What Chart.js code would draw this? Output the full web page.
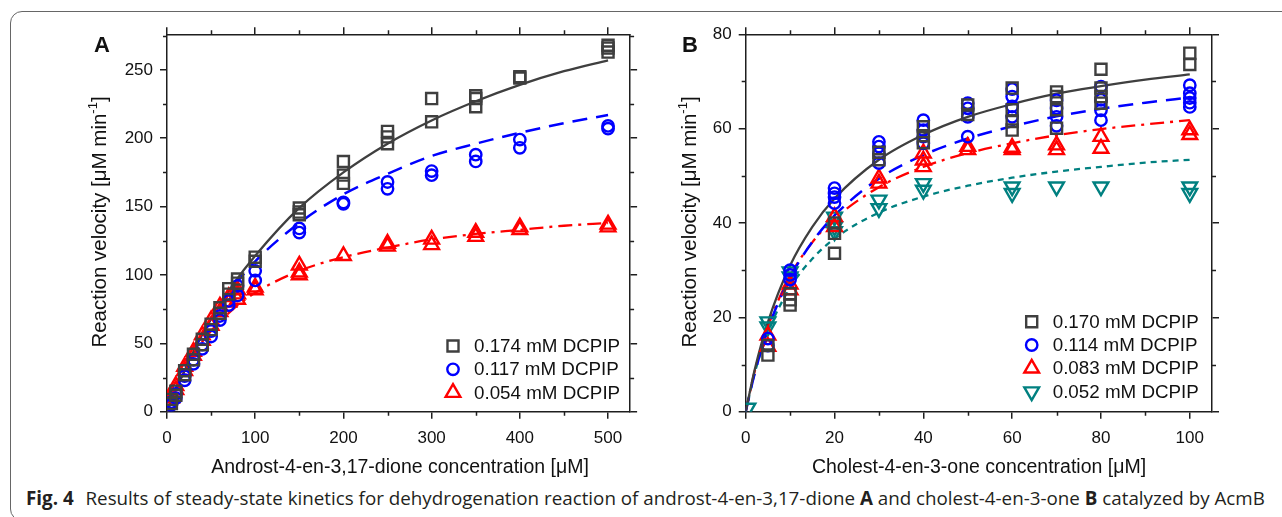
<!DOCTYPE html>
<html>
<head>
<meta charset="utf-8">
<script src="https://cdn.jsdelivr.net/npm/chart.js@4.4.1/dist/chart.umd.min.js"></script>
<style>
  body { margin: 0; background: #fff; width: 1282px; height: 517px; overflow: hidden; position: relative; }
  #frame { position: absolute; left: 10px; top: 11px; width: 1300px; height: 508px; border: 1px solid #666; border-radius: 12px; }
  canvas { position: absolute; top: 0; }
  #cA { left: 0; }
  #cB { left: 641px; }
  #caption { position: absolute; left: 26px; top: 487px; font-family: 'Open Sans', sans-serif; font-size: 18.8px; line-height: 22px; color: #231f20; white-space: nowrap; }
  #caption b { font-weight: 700; margin-right: 7px; }
</style>
</head>
<body>
<div id="frame"></div>
<canvas id="cA" width="641" height="480"></canvas>
<canvas id="cB" width="641" height="480"></canvas>
<div id="caption"><b>Fig. 4</b> Results of steady-state kinetics for dehydrogenation reaction of androst-4-en-3,17-dione <b style="margin:0">A</b> and cholest-4-en-3-one <b style="margin:0">B</b> catalyzed by AcmB</div>

<script>
// ---- panel A: androst-4-en-3,17-dione ----
const concA = [5, 10, 20, 30, 40, 50, 60, 70, 80, 100, 150, 200, 250, 300, 350, 400, 500];
const vA174 = [[6, 9], [12, 15], [27, 30], [38, 42], [49, 53], [60, 64], [72, 76], [86, 90], [94, 97], [110, 113],
  [144, 146, 149], [167, 173, 183], [196, 201, 205], [212, 229], [223, 229, 231], [244, 245], [263, 266, 268]];
const vA117 = [[5, 7], [10, 13], [23, 26], [35, 38], [46, 49], [55, 59], [67, 70], [78, 81], [85, 92], [96, 103],
  [131, 134], [152, 153], [163, 168], [173, 176], [183, 188], [193, 199], [207, 209]];
const vA054 = [[10, 13], [16, 19], [30, 33], [41, 44], [52, 56], [63, 67], [73, 77], [80, 84], [82, 86, 89], [89, 91],
  [100, 102, 107], [114], [121, 123], [122, 126], [128, 131], [133, 135], [135, 137]];
const fitXA = [0, 10, 20, 30, 50, 75, 100, 150, 200, 250, 300, 350, 400, 450, 500];
const fitA174 = [0, 16, 30, 44, 68, 93, 114, 149, 175, 196, 213, 227, 239, 249, 257];
const fitA117 = [0, 17, 31, 45, 68, 91, 110, 138, 159, 174, 187, 196, 204, 211, 217];
const fitA054 = [0, 17, 30, 42, 59, 75, 87, 103, 113, 120, 126, 130, 133, 136, 138];
const ticksXA = [0, 100, 200, 300, 400, 500];
const ticksYA = [0, 50, 100, 150, 200, 250];

// ---- panel B: cholest-4-en-3-one ----
const concB = [5, 10, 20, 30, 40, 50, 60, 70, 80, 100];
const vB170 = [[12, 14], [22.6, 23.7, 25], [33.6, 37.8, 40], [53.4, 55], [57, 58.5, 60.4], [63, 65],
  [59.7, 61.5, 64, 68.6], [60.1, 64, 66.8, 67.8], [65.4, 66.8, 68.6, 72.6], [73.6, 76]];
const vB114 = [[14, 15.5], [28, 29, 30], [44.2, 45.5, 46.3, 47.4], [52.7, 54.8, 56.2, 57.2], [56.9, 58.3, 59.7, 61.8],
  [58.3, 62.5, 64.3, 65.4], [62.5, 64.7, 66.8, 68.4], [60.6, 62.5, 64.3, 66], [61.8, 63.9, 66.1, 68.9], [64.6, 65.5, 66.5, 67.5, 69.2]];
const vB083 = [[13.8, 16.2], [25.8, 27], [39.2, 41.3], [48.4, 49.5], [51.9, 53.3, 54.8], [55.5, 56.2],
  [55.5, 56], [55.5, 56.5], [55.8, 58.3], [58.7, 59.7]];
const concB052 = [0.5, 5, 10, 20, 30, 40, 60, 70, 80, 100];
const vB052 = [[0.8], [18, 19.1], [28.6, 29.7], [38.2, 39.2, 41.3], [43.1, 44.9], [47, 48.4], [46.3, 47.7], [47.7], [47.7], [46.3, 47.7]];
const fitXB = [0, 2, 5, 10, 15, 20, 30, 40, 50, 60, 70, 80, 90, 100];
const fitB170 = [0, 8.8, 19, 31, 39.2, 45.2, 53.4, 58.7, 62.5, 65.2, 67.4, 69, 70.4, 71.5];
const fitB114 = [0, 8, 17.5, 28.4, 36, 41.6, 49.4, 54.4, 57.9, 60.5, 62.6, 64.2, 65.5, 66.6];
const fitB083 = [0, 8.5, 18, 28.8, 35.9, 40.9, 47.6, 51.9, 54.8, 56.9, 58.6, 59.9, 60.9, 61.8];
const fitB052 = [0, 8.1, 16.8, 26.3, 32.4, 36.7, 42.2, 45.6, 47.9, 49.6, 50.9, 51.9, 52.8, 53.4];
const ticksXB = [0, 20, 40, 60, 80, 100];
const ticksYB = [0, 20, 40, 60, 80];

const GREY = '#3f3f3f', BLUE = '#0000ff', RED = '#ff0000', TEAL = '#008080';
const AXIS = '#1e1e1e';
const FONT = "'Liberation Sans', Arial, sans-serif";

function points(xs, reps) {
  const out = [];
  xs.forEach((x, i) => reps[i].forEach(v => out.push({ x: x, y: v })));
  return out;
}
function curve(xs, ys) {
  return xs.map((x, i) => ({ x: x, y: ys[i] }));
}

// minor ticks, axis titles, panel letter and in-plot legend
const decor = {
  id: 'decor',
  afterDraw(chart) {
    const o = chart.options.plugins.decor;
    const ctx = chart.ctx;
    const a = chart.chartArea;
    const sx = chart.scales.x, sy = chart.scales.y;
    ctx.save();
    ctx.strokeStyle = AXIS;
    ctx.lineWidth = 1.5;
    ctx.beginPath();
    for (let v = sx.min; v <= sx.max; v += o.xMinor) {
      if (o.xTicks.includes(v)) continue;
      const p = Math.round(sx.getPixelForValue(v)) + 0.5;
      ctx.moveTo(p, a.bottom); ctx.lineTo(p, a.bottom + 4);
      ctx.moveTo(p, a.top); ctx.lineTo(p, a.top - 4);
    }
    for (let v = sy.min; v <= sy.max; v += o.yMinor) {
      if (o.yTicks.includes(v)) continue;
      const p = Math.round(sy.getPixelForValue(v)) + 0.5;
      ctx.moveTo(a.left, p); ctx.lineTo(a.left - 4, p);
      ctx.moveTo(a.right, p); ctx.lineTo(a.right + 4, p);
    }
    ctx.stroke();

    ctx.fillStyle = '#111';
    // x title
    ctx.font = '19.5px ' + FONT;
    ctx.textAlign = 'center';
    ctx.textBaseline = 'middle';
    ctx.fillText(o.xTitle, o.xTitleX, 468);

    // y title with superscript
    ctx.translate(o.yTitleX, 222);
    ctx.rotate(-Math.PI / 2);
    const main = 'Reaction velocity [\u03bcM min', sup = '-1', end = ']';
    ctx.font = '20.5px ' + FONT;
    const w1 = ctx.measureText(main).width, w3 = ctx.measureText(end).width;
    ctx.font = '13px ' + FONT;
    const w2 = ctx.measureText(sup).width;
    let x0 = -(w1 + w2 + w3) / 2;
    ctx.textAlign = 'left';
    ctx.font = '20.5px ' + FONT;
    ctx.fillText(main, x0, 0);
    ctx.font = '13px ' + FONT;
    ctx.fillText(sup, x0 + w1, -7);
    ctx.font = '20.5px ' + FONT;
    ctx.fillText(end, x0 + w1 + w2, 0);
    ctx.setTransform(1, 0, 0, 1, 0, 0);

    // panel letter
    ctx.font = 'bold 22px ' + FONT;
    ctx.textAlign = 'center';
    ctx.fillText(o.letter, o.letterX, 46);

    // legend
    ctx.font = '18.8px ' + FONT;
    ctx.textAlign = 'left';
    let row = 0;
    chart.data.datasets.forEach(ds => {
      if (!ds.legend) return;
      const y = o.legY + row * 23.3;
      ctx.strokeStyle = ds.borderColor;
      ctx.fillStyle = 'rgba(0,0,0,0)';
      ctx.lineWidth = ds.pointBorderWidth;
      Chart.helpers.drawPoint(ctx, { pointStyle: ds.pointStyle, rotation: ds.pointRotation || 0, radius: ds.pointRadius, borderWidth: ds.pointBorderWidth }, o.legX, y);
      ctx.fillStyle = '#111';
      ctx.fillText(ds.label, o.legX + 21, y + 1);
      row++;
    });
    ctx.restore();
  }
};

function makePanel(id, p) {
  const datasets = [];
  p.series.forEach(s => {
    datasets.push({
      label: s.label, legend: true, data: s.pts, showLine: false,
      pointStyle: s.style, pointRotation: s.rot || 0, pointRadius: s.r,
      borderColor: s.color, backgroundColor: 'rgba(0,0,0,0)', pointBorderWidth: 2.4, borderWidth: 2.4
    });
  });
  p.series.forEach(s => {
    datasets.push({
      data: s.fit, showLine: true, pointRadius: 0, borderColor: s.color, borderWidth: s.lw,
      borderDash: s.dash, cubicInterpolationMode: 'monotone', fill: false
    });
  });
  const H = 480, W = 641;
  const tickFont = { family: FONT, size: 17 };
  const grid = { drawOnChartArea: false, drawTicks: true, tickLength: 7, color: AXIS, lineWidth: 1.5 };
  const border = { display: true, color: AXIS, width: 1.5 };
  const setTicks = vals => axis => { axis.ticks = vals.map(v => ({ value: v })); };
  return new Chart(document.getElementById(id), {
    type: 'scatter',
    data: { datasets: datasets },
    plugins: [decor],
    options: {
      responsive: false, animation: false, devicePixelRatio: 1,
      layout: { padding: 0 },
      plugins: {
        legend: { display: false }, tooltip: { enabled: false },
        decor: p.decor
      },
      scales: {
        x: {
          type: 'linear', position: 'bottom', min: p.xMin, max: p.xMax,
          afterBuildTicks: setTicks(p.xTicks),
          ticks: { font: tickFont, color: '#111', padding: 9, maxRotation: 0, autoSkip: false },
          grid: grid, border: border,
          afterFit: sc => { sc.height = H - 411.7; }
        },
        x2: {
          type: 'linear', position: 'top', min: p.xMin, max: p.xMax,
          afterBuildTicks: setTicks(p.xTicks),
          ticks: { display: false }, grid: grid, border: border,
          afterFit: sc => { sc.height = 34.3; }
        },
        y: {
          type: 'linear', position: 'left', min: 0, max: p.yMax,
          afterBuildTicks: setTicks(p.yTicks),
          ticks: { font: tickFont, color: '#111', padding: 7, autoSkip: false },
          grid: grid, border: border,
          afterFit: sc => { sc.width = p.left; }
        },
        y2: {
          type: 'linear', position: 'right', min: 0, max: p.yMax,
          afterBuildTicks: setTicks(p.yTicks),
          ticks: { display: false }, grid: grid, border: border,
          afterFit: sc => { sc.width = W - p.right; }
        }
      }
    }
  });
}

makePanel('cA', {
  xMin: 0, xMax: 525, yMax: 276, xTicks: ticksXA, yTicks: ticksYA, left: 167, right: 633,
  series: [
    { label: '0.174 mM DCPIP', pts: points(concA, vA174), fit: curve(fitXA, fitA174), color: GREY, style: 'rect', r: 7.8, lw: 2.3, dash: [] },
    { label: '0.117 mM DCPIP', pts: points(concA, vA117), fit: curve(fitXA, fitA117), color: BLUE, style: 'circle', r: 5.7, lw: 2.5, dash: [15, 9] },
    { label: '0.054 mM DCPIP', pts: points(concA, vA054), fit: curve(fitXA, fitA054), color: RED, style: 'triangle', r: 8.5, lw: 2.3, dash: [14, 6, 3, 6] }
  ],
  decor: { xMinor: 50, yMinor: 25, xTicks: ticksXA, yTicks: ticksYA,
    xTitle: 'Androst-4-en-3,17-dione concentration [\u03bcM]', xTitleX: 400, yTitleX: 100,
    letter: 'A', letterX: 102, legX: 453, legY: 346 }
});

makePanel('cB', {
  xMin: 0, xMax: 105, yMax: 80, xTicks: ticksXB, yTicks: ticksYB, left: 104.7, right: 571,
  series: [
    { label: '0.170 mM DCPIP', pts: points(concB, vB170), fit: curve(fitXB, fitB170), color: GREY, style: 'rect', r: 7.8, lw: 2.3, dash: [] },
    { label: '0.114 mM DCPIP', pts: points(concB, vB114), fit: curve(fitXB, fitB114), color: BLUE, style: 'circle', r: 5.7, lw: 2.5, dash: [15, 9] },
    { label: '0.083 mM DCPIP', pts: points(concB, vB083), fit: curve(fitXB, fitB083), color: RED, style: 'triangle', r: 8.5, lw: 2.3, dash: [14, 6, 3, 6] },
    { label: '0.052 mM DCPIP', pts: points(concB052, vB052), fit: curve(fitXB, fitB052), color: TEAL, style: 'triangle', rot: 180, r: 8.5, lw: 2.3, dash: [6, 5] }
  ],
  decor: { xMinor: 10, yMinor: 10, xTicks: ticksXB, yTicks: ticksYB,
    xTitle: 'Cholest-4-en-3-one concentration [\u03bcM]', xTitleX: 338, yTitleX: 49,
    letter: 'B', letterX: 49, legX: 390.7, legY: 321.7 }
});
</script>
</body>
</html>
